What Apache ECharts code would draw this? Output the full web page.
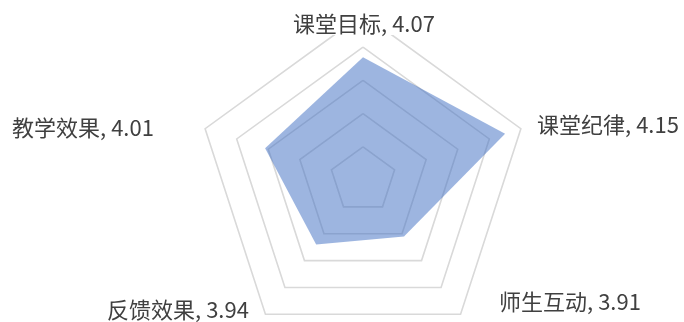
<!DOCTYPE html>
<html>
<head>
<meta charset="utf-8">
<script src="https://cdn.jsdelivr.net/npm/echarts@6/dist/echarts.min.js"></script>
<style>
  html, body { margin: 0; padding: 0; background: #fff; }
  #chart { width: 684px; height: 322px; }
</style>
</head>
<body>
<div id="chart"></div>
<script>
  // categories clockwise from the top, as in the picture
  const categories = ['课堂目标', '课堂纪律', '师生互动', '反馈效果', '教学效果']
  const scores = [4.07, 4.15, 3.91, 3.94, 4.01]
  const axisMin = 3.7
  const axisMax = 4.2

  // label centres, same order as categories
  const labelPos = [[364, 24], [608, 125], [570, 302], [178, 310], [83, 128]]

  // echarts lays radar indicators out counter-clockwise, so flip after the first
  const order = [0, 4, 3, 2, 1]

  const chart = echarts.init(document.getElementById('chart'))
  chart.setOption({
    animation: false,
    radar: {
      center: [363, 180],
      radius: 166,
      startAngle: 90,
      splitNumber: 5,
      shape: 'polygon',
      indicator: order.map(i => ({ name: categories[i], min: axisMin, max: axisMax })),
      axisName: { show: false },
      axisLine: { show: false },
      axisTick: { show: false },
      axisLabel: { show: false },
      splitArea: { show: false },
      splitLine: {
        lineStyle: { color: '#d9d9d9', width: 1.6 }
      }
    },
    graphic: categories.map((c, i) => ({
      type: 'text',
      z: 100,
      x: labelPos[i][0],
      y: labelPos[i][1],
      style: {
        text: c + ', ' + scores[i].toFixed(2),
        font: '22px "Noto Sans CJK SC", "Noto Sans", sans-serif',
        fill: '#404040',
        align: 'center',
        verticalAlign: 'middle',
        backgroundColor: '#fff',
        padding: [0, 2]
      }
    })),
    series: [
      {
        type: 'radar',
        symbol: 'none',
        lineStyle: { width: 0 },
        areaStyle: { color: '#4472C4', opacity: 0.52 },
        data: [{ value: order.map(i => scores[i]) }]
      }
    ]
  })
</script>
</body>
</html>
